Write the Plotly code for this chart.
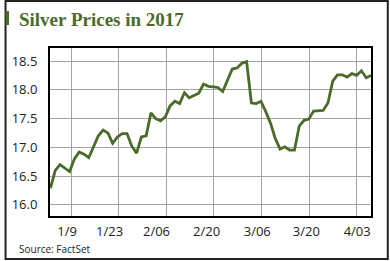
import plotly.graph_objects as go

# Silver price (USD/oz), one value per session, Jan 3 - Apr 7, 2017
prices = [16.29, 16.60, 16.70, 16.64, 16.58, 16.80, 16.92, 16.88, 16.82, 17.01,
          17.20, 17.30, 17.25, 17.07, 17.18, 17.24, 17.24, 17.02, 16.90, 17.18,
          17.20, 17.60, 17.50, 17.46, 17.53, 17.72, 17.80, 17.76, 17.95, 17.86,
          17.90, 17.94, 18.10, 18.06, 18.05, 18.04, 17.97, 18.16, 18.36, 18.38,
          18.46, 18.49, 17.77, 17.76, 17.80, 17.62, 17.42, 17.15, 16.97, 17.01,
          16.95, 16.95, 17.37, 17.47, 17.49, 17.63, 17.63, 17.64, 17.77, 18.15,
          18.26, 18.26, 18.22, 18.28, 18.25, 18.33, 18.21, 18.25]
session = list(range(len(prices)))

# gridline positions and date labels (session scale)
grid_pos = [4.3, 14.26, 24.22, 34.18, 44.14, 54.1, 64.06]
label_pos = [3.47, 12.35, 22.16, 32.62, 43.22, 53.48, 64.11]
date_labels = ["1/9", "1/23", "2/06", "2/20", "3/06", "3/20", "4/03"]
y_ticks = [16.0, 16.5, 17.0, 17.5, 18.0, 18.5]
y_text = ["16.0", "16.5", "17.0", "17.5", "18.0", "18.5"]

GREEN = "#4b6b2a"
XR = [-0.1, 67.0]

fig = go.Figure()
fig.add_trace(go.Scatter(x=session, y=prices, mode="lines",
                         line=dict(color=GREEN, width=2.8),
                         hoverinfo="skip", showlegend=False))
fig.add_trace(go.Scatter(x=label_pos, y=[None] * len(label_pos), xaxis="x2",
                         mode="markers", showlegend=False, hoverinfo="skip"))

tickfont = dict(family="Open Sans", size=13, color="#222222")

fig.update_layout(
    width=390, height=261,
    margin=dict(l=46, r=19, t=48, b=45),
    paper_bgcolor="white", plot_bgcolor="white",
    xaxis=dict(range=XR, tickvals=grid_pos, showticklabels=False,
               showgrid=True, gridcolor="#a3a3a3", gridwidth=1,
               showline=True, linecolor="black", linewidth=2, mirror=True,
               ticks="", zeroline=False, fixedrange=True),
    xaxis2=dict(range=XR, overlaying="x", anchor="y", side="bottom",
                tickvals=label_pos, ticktext=date_labels, showgrid=False,
                showline=False, ticks="", zeroline=False, tickfont=tickfont,
                ticklabelstandoff=6, fixedrange=True),
    yaxis=dict(range=[15.807, 18.726], tickvals=y_ticks, ticktext=y_text,
               showgrid=True, gridcolor="#a3a3a3", gridwidth=1,
               showline=True, linecolor="black", linewidth=2, mirror=True,
               ticks="", zeroline=False, tickfont=tickfont,
               ticklabelstandoff=8, fixedrange=True),
    shapes=[
        dict(type="rect", xref="paper", yref="paper",
             x0=-0.1385, x1=1.0523, y0=-0.256, y1=1.2798,
             line=dict(color="#222222", width=2), layer="above"),
        dict(type="rect", xref="paper", yref="paper",
             x0=-0.1385, x1=-0.1277, y0=1.137, y1=1.220,
             fillcolor=GREEN, line=dict(width=0)),
    ],
    annotations=[
        dict(text="<b>Silver Prices in 2017</b>", xref="paper", yref="paper",
             x=-0.1015, y=1.1667, xanchor="left", yanchor="middle",
             showarrow=False,
             font=dict(family="Liberation Serif", size=19, color=GREEN)),
        dict(text="Source: FactSet", xref="paper", yref="paper",
             x=-0.1015, y=-0.1964, xanchor="left", yanchor="middle",
             showarrow=False,
             font=dict(family="Open Sans", size=10, color="#222222")),
    ],
)

fig.write_html("out.html", config={"displayModeBar": False})
